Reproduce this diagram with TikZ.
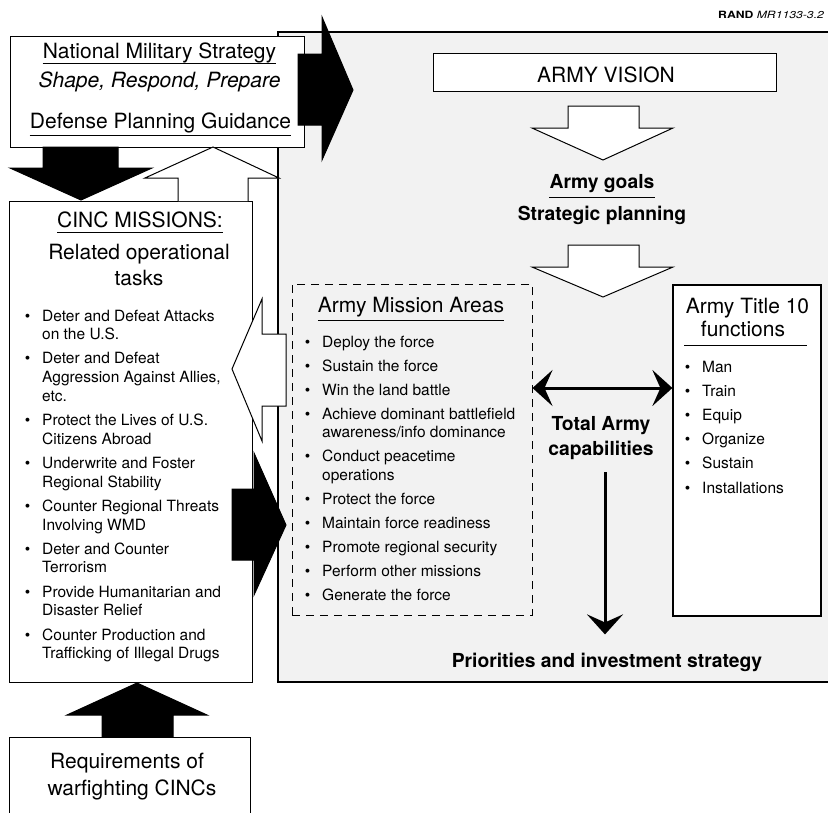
\documentclass[tikz,border=0pt]{standalone}
\usepackage{fontspec}
\setmainfont{TeX Gyre Heros}
\usetikzlibrary{arrows.meta}
\tikzstyle{panel}=[fill=black!5, draw=black, line width=1.3pt]
\tikzstyle{box}=[rectangle, draw, line width=1pt, fill=white, inner sep=0pt]
\tikzstyle{dashbox}=[rectangle, draw, line width=1pt, dash pattern=on 8pt off 6pt, inner sep=0pt]
\tikzstyle{head}=[font=\fontsize{21}{25}\selectfont, inner sep=0pt, anchor=base]
\tikzstyle{boldhead}=[font=\bfseries\fontsize{19.3}{23}\selectfont, inner sep=0pt, anchor=base]
\tikzstyle{items}=[font=\fontsize{15.5}{18.7}\selectfont, inner sep=0pt, anchor=base west]
\tikzstyle{solidarrow}=[fill=black, draw=black, line width=1pt]
\tikzstyle{hollowarrow}=[fill=white, draw=black, line width=1pt]
\tikzstyle{uline}=[line width=0.8pt]
\tikzstyle{linkarrow}=[line width=3pt, -{Stealth[length=20pt,width=36pt,inset=8pt]}]
\tikzstyle{dblarrow}=[line width=3pt, {Stealth[length=20pt,width=36pt,inset=8pt]}-{Stealth[length=20pt,width=36pt,inset=8pt]}]
\newcommand{\itembul}{\llap{\textbullet\hspace{12pt}}}

\begin{document}
\begin{tikzpicture}[x=1pt, y=-1pt]
  \clip (0,0) rectangle (828,812);

  %Army panel
  \draw[panel] (278,32) rectangle (860,682);
  \node[anchor=base west, inner sep=0pt, font=\fontsize{10}{12}\selectfont] (rand) at (718,18) {\scalebox{1.22}[1]{\textbf{RAND} \textit{MR1133-3.2}}};

  %Strategy box
  \node[box, minimum width=294pt, minimum height=111pt] (nms) at (157,91.5) {};
  \node[head] (nms1) at (159.5,58) {National Military Strategy};
  \node[head, font=\itshape\fontsize{21}{25}\selectfont] (nms2) at (159.5,87) {Shape, Respond, Prepare};
  \node[head] (nms3) at (160.5,128) {Defense Planning Guidance};
  \draw[uline] ([yshift=-5pt]nms1.base west) -- ([yshift=-5pt]nms1.base east);
  \draw[uline] ([yshift=-7pt]nms3.base west) -- ([yshift=-7pt]nms3.base east);

  %CINC missions
  \node[box, minimum width=243pt, minimum height=481pt] (cinc) at (130.5,441.5) {};
  \node[head] (cinc1) at (140,227) {CINC MISSIONS:};
  \draw[uline] ([yshift=-5pt]cinc1.base west) -- ([yshift=-5pt]cinc1.base east);
  \node[head] (cinc2) at (139,259) {Related operational};
  \node[head] (cinc3) at (139,285) {tasks};
  \node[items] (cincitems) at (42,321) {\begin{tabular}[t]{@{}l@{}}
    \itembul Deter and Defeat Attacks\\
    on the U.S.\\[5.5pt]
    \itembul Deter and Defeat\\
    Aggression Against Allies,\\
    etc.\\[5.5pt]
    \itembul Protect the Lives of U.S.\\
    Citizens Abroad\\[5.5pt]
    \itembul Underwrite and Foster\\
    Regional Stability\\[5.5pt]
    \itembul Counter Regional Threats\\
    Involving WMD\\[5.5pt]
    \itembul Deter and Counter\\
    Terrorism\\[5.5pt]
    \itembul Provide Humanitarian and\\
    Disaster Relief\\[5.5pt]
    \itembul Counter Production and\\
    Trafficking of Illegal Drugs
  \end{tabular}};

  %Requirements
  \node[box, minimum width=241pt, minimum height=93pt] (req) at (129.5,783.5) {};
  \node[head] (req1) at (127,768) {Requirements of};
  \node[head] (req2) at (132,795) {warfighting CINCs};

  %Vision and goals
  \node[box, minimum width=343pt, minimum height=38pt] (vision) at (604.5,72) {};
  \node[head] (vision1) at (606,82) {ARMY VISION};
  \node[boldhead] (goals) at (602,188) {Army goals};
  \draw[uline] ([yshift=-9pt]goals.base west) -- ([yshift=-9pt]goals.base east);
  \node[boldhead] (strat) at (602,220) {Strategic planning};

  %Mission areas
  \node[dashbox, minimum width=240pt, minimum height=331pt] (areas) at (412,449.5) {};
  \node[head] (areas1) at (411,312) {Army Mission Areas};
  \draw[uline] ([yshift=-8pt]areas1.base west) -- ([yshift=-8pt]areas1.base east);
  \node[items] (areaitems) at (322,347) {\begin{tabular}[t]{@{}l@{}}
    \itembul Deploy the force\\[5.3pt]
    \itembul Sustain the force\\[5.3pt]
    \itembul Win the land battle\\[5.3pt]
    \itembul Achieve dominant battlefield\\
    awareness/info dominance\\[5.3pt]
    \itembul Conduct peacetime\\
    operations\\[5.3pt]
    \itembul Protect the force\\[5.3pt]
    \itembul Maintain force readiness\\[5.3pt]
    \itembul Promote regional security\\[5.3pt]
    \itembul Perform other missions\\[5.3pt]
    \itembul Generate the force
  \end{tabular}};

  %Title 10
  \node[box, line width=1.2pt, minimum width=148pt, minimum height=331pt] (title) at (747,450.5) {};
  \node[head] (title1) at (747.5,313) {Army Title 10};
  \node[head] (title2) at (743,336) {functions};
  \draw[uline] ([shift={(12,61)}]title.north west) -- ([shift={(-15,61)}]title.north east);
  \node[items] (titleitems) at (702,372) {\begin{tabular}[t]{@{}l@{}}
    \itembul Man\\[5.5pt]
    \itembul Train\\[5.5pt]
    \itembul Equip\\[5.5pt]
    \itembul Organize\\[5.5pt]
    \itembul Sustain\\[5.5pt]
    \itembul Installations
  \end{tabular}};

  %Capabilities
  \coordinate (capline) at (600,388);
  \node[boldhead] (total1) at (601,430) {Total Army};
  \node[boldhead] (total2) at (601,455) {capabilities};
  \node[boldhead] (prio) at (607,667) {Priorities and investment strategy};
  \draw[dblarrow] (areas.east |- capline) -- (title.west |- capline);
  \draw[linkarrow, shorten <=13pt, shorten >=18pt] ([xshift=4pt]total2.south) -- ([xshift=-2pt]prio.north);

  %Block arrows
  \draw[solidarrow] (298,54) -- (322,54) -- (322,17) -- (353,90) -- (322,160) -- (322,125) -- (298,125) -- cycle; %NMS -> panel
  \draw[solidarrow] (43,147) -- (118,147) -- (118,168) -- (152,168) -- (81,200) -- (10,168) -- (43,168) -- cycle; %NMS -> CINC
  \draw[hollowarrow] (178,201) -- (178,178) -- (145,178) -- (213,147) -- (279,178) -- (248,178) -- (248,201); %CINC -> NMS
  \draw[hollowarrow] (568,106) -- (639,106) -- (639,128) -- (673,128) -- (603,160) -- (532,128) -- (568,128) -- cycle; %vision
  \draw[hollowarrow] (568,245) -- (639,245) -- (639,267) -- (673,267) -- (603,297) -- (532,267) -- (568,267) -- cycle; %goals
  \draw[hollowarrow] (286,334) -- (262,334) -- (262,299) -- (232,369) -- (262,441) -- (262,406) -- (286,406) -- cycle; %areas -> CINC
  \draw[solidarrow] (232,489) -- (254,489) -- (254,453) -- (286,525) -- (254,595) -- (254,560) -- (232,560) -- cycle; %CINC -> areas
  \draw[solidarrow] (102,737) -- (102,715) -- (67,715) -- (137,683) -- (207,715) -- (173,715) -- (173,737) -- cycle; %req -> CINC
\end{tikzpicture}
\end{document}
